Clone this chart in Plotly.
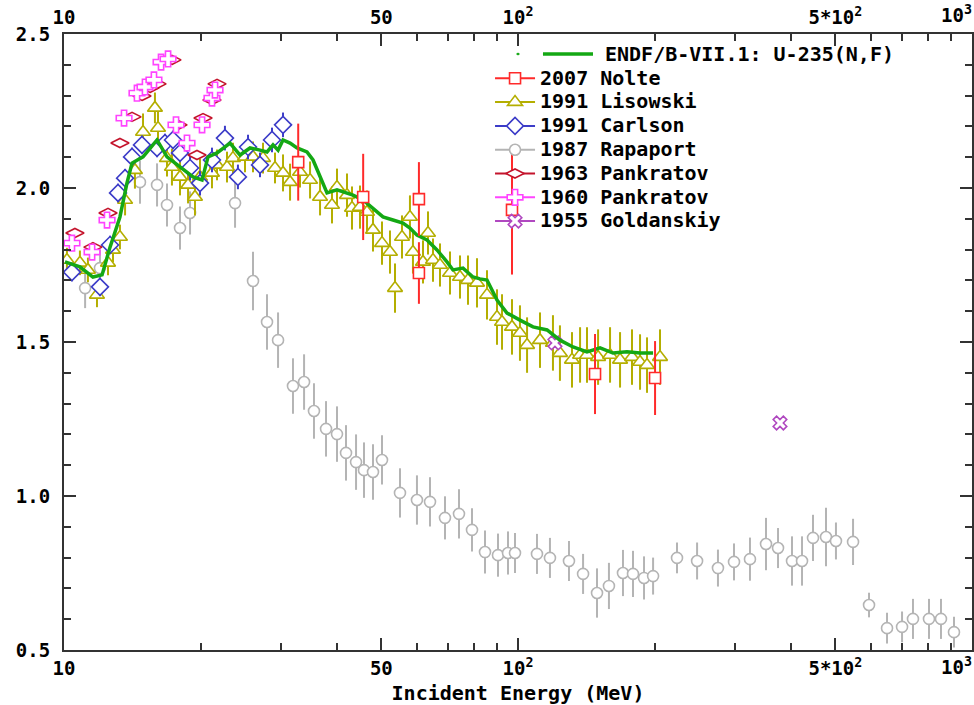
import plotly.graph_objects as go

# ---------------- data ----------------
endf_e = [10.05,10.84,11.58,12.13,12.63,13.28,13.76,14.12,14.93,16.03,16.86,18.01,19.24,20.14,20.76,
          21.73,23.21,24.42,25.69,27.02,28.00,28.87,29.61,30.37,31.47,32.60,34.29,35.36,36.64,37.96,
          39.93,41.17,43.31,45.57,47.93,50.42,53.04,55.80,57.81,59.90,63.03,66.31,69.76,71.91,75.65,
          79.59,82.46,85.45,89.90,94.58,101.0,107.9,115.9,123.7,132.2,141.9,151.6,161.9,173.8,185.7,198.4]
endf_v = [1.760,1.744,1.711,1.718,1.808,1.906,2.016,2.081,2.101,2.156,2.101,2.068,2.036,2.026,2.101,
          2.114,2.146,2.107,2.130,2.123,2.117,2.140,2.123,2.156,2.146,2.130,2.117,2.091,2.036,1.984,
          1.994,1.987,1.977,1.961,1.935,1.906,1.896,1.886,1.870,1.847,1.831,1.799,1.760,1.734,1.740,
          1.711,1.705,1.701,1.636,1.594,1.571,1.549,1.539,1.506,1.484,1.468,1.481,1.464,1.468,1.464,1.464]

nolte_e = [32.8, 45.6, 60.5, 60.5, 97.0, 147.8, 200.4]
nolte_v = [2.084, 1.971, 1.964, 1.724, 1.929, 1.396, 1.383]
nolte_err = [0.125, 0.14, 0.12, 0.10, 0.21, 0.13, 0.12]

lis_e = [10.15,10.84,11.29,11.82,12.50,12.82,13.28,13.63,14.33,14.93,15.86,16.11,16.86,17.29,18.01,
         18.76,19.43,19.93,21.18,21.73,22.86,23.56,25.04,26.08,27.44,29.16,30.37,31.47,33.10,34.83,
         36.64,38.93,39.93,42.01,43.09,44.87,46.49,47.93,50.17,52.24,53.59,55.53,57.81,58.70,61.76,
         63.35,64.98,67.33,70.83,74.51,77.60,81.22,85.45,89.90,92.22,97.0,101.0,104.7,111.8,119.4,
         123.7,131.5,137.0,141.9,150.1,159.5,167.8,178.3,185.7,192.4,205.5]
lis_v = [1.766,1.757,1.734,1.653,1.757,1.799,1.841,1.961,2.058,2.182,2.260,2.195,2.097,2.068,2.036,
         2.010,1.971,2.036,2.049,2.075,2.068,2.097,2.101,2.101,2.097,2.065,2.049,2.019,2.052,2.026,
         1.971,1.945,2.003,1.977,1.935,1.938,1.922,1.864,1.821,1.792,1.675,1.841,1.906,1.792,1.760,
         1.854,1.766,1.750,1.724,1.711,1.701,1.692,1.653,1.581,1.565,1.549,1.529,1.490,1.506,1.497,
         1.464,1.442,1.458,1.458,1.451,1.458,1.442,1.451,1.435,1.425,1.451]
lis_err = [0.04,0.04,0.04,0.04,0.04,0.04,0.04,0.05,0.06,0.06,0.05,0.06,0.06,0.06,0.06,
           0.06,0.06,0.06,0.05,0.05,0.05,0.05,0.05,0.05,0.05,0.05,0.06,0.06,0.05,0.06,
           0.06,0.06,0.06,0.07,0.07,0.07,0.07,0.07,0.07,0.07,0.08,0.07,0.07,0.07,0.07,
           0.07,0.07,0.07,0.07,0.07,0.08,0.08,0.08,0.09,0.09,0.09,0.09,0.09,0.09,0.09,
           0.09,0.09,0.09,0.09,0.09,0.09,0.09,0.09,0.09,0.09,0.09]

car_e = [10.41,12.00,12.63,13.15,13.63,14.12,14.85,16.03,16.69,17.38,18.01,18.95,19.93,21.18,22.62,
         24.16,25.43,27.02,28.72,30.37]
car_v = [1.727,1.679,1.815,1.984,2.032,2.101,2.140,2.130,2.146,2.156,2.114,2.065,2.016,2.091,2.162,
         2.036,2.133,2.075,2.156,2.205]
car_err = [0.03,0.03,0.03,0.03,0.03,0.03,0.03,0.03,0.03,0.03,0.03,0.04,0.04,0.04,0.04,
           0.04,0.04,0.04,0.04,0.04]

rap_e = [11.13,12.00,14.70,16.03,16.86,18.01,18.95,23.81,26.08,28.00,29.61,31.94,33.79,35.53,37.77,
         39.93,41.80,43.98,45.79,47.93,50.17,54.96,59.90,64.00,69.05,74.13,79.19,84.59,90.35,95.06,
         98.49,110.1,117.6,129.5,139.1,149.3,158.6,170.3,179.2,189.5,198.4,224.0,248.0,275.7,299.1,
         324.3,351.8,373.9,401.4,422.3,446.5,476.9,501.6,547.0,593.2,649.9,701.3,741.3,804.0,854.4,912.7]
rap_v = [1.675,1.740,2.019,2.010,1.945,1.870,1.919,1.951,1.698,1.565,1.506,1.357,1.370,1.276,1.218,
         1.201,1.140,1.110,1.084,1.078,1.117,1.010,0.987,0.981,0.929,0.942,0.890,0.818,0.808,0.815,
         0.815,0.812,0.799,0.789,0.747,0.685,0.708,0.750,0.747,0.734,0.740,0.799,0.789,0.766,0.786,
         0.795,0.844,0.831,0.789,0.789,0.864,0.867,0.854,0.851,0.646,0.571,0.575,0.601,0.601,0.601,0.558]
rap_err = [0.065,0.06,0.07,0.07,0.07,0.07,0.07,0.08,0.095,0.09,0.09,0.09,0.09,0.09,0.09,
           0.09,0.09,0.09,0.09,0.09,0.08,0.08,0.08,0.08,0.07,0.08,0.07,0.07,0.07,0.07,
           0.065,0.065,0.065,0.065,0.065,0.08,0.075,0.075,0.075,0.07,0.06,0.05,0.06,0.06,0.06,
           0.07,0.085,0.065,0.08,0.08,0.075,0.095,0.06,0.075,0.04,0.05,0.05,0.065,0.065,0.065,0.05]

p63_e = [10.57,11.58,12.50,13.28,14.12,14.85,15.47,16.03,17.29,17.83,19.63,20.24,21.18,21.73]
p63_v = [1.854,1.808,1.919,2.146,2.231,2.299,2.325,2.338,2.416,2.205,2.107,2.227,2.286,2.338]

p60_e = [10.41,11.53,12.44,13.56,14.48,15.08,15.78,16.36,16.95,17.65,18.66,20.14,21.18,21.51]
p60_v = [1.821,1.792,1.896,2.227,2.308,2.328,2.351,2.409,2.419,2.205,2.146,2.205,2.292,2.318]

gol_e = [120.6, 377.6]
gol_v = [1.497, 1.237]

# x tick labels; the last one (10^3, at the right frame) is drawn right-aligned so it stays on the page
x_tickvals = [10, 50, 100, 500]
x_ticktext = ["10", "50", "10<sup>2</sup>", "5*10<sup>2</sup>"]
x_last_label = "10<sup>3</sup>"
x_major_extra = [1000]
x_minor = [20, 30, 40, 60, 70, 80, 90, 200, 300, 400, 600, 700, 800, 900]
y_tickvals = [0.5, 1.0, 1.5, 2.0, 2.5]
y_ticktext = ["0.5", "1.0", "1.5", "2.0", "2.5"]
y_minor = [0.6, 0.7, 0.8, 0.9, 1.1, 1.2, 1.3, 1.4, 1.6, 1.7, 1.8, 1.9, 2.1, 2.2, 2.3, 2.4]

legend_names = ["ENDF/B-VII.1: U-235(N,F)", "2007 Nolte", "1991 Lisowski", "1991 Carlson",
                "1987 Rapaport", "1963 Pankratov", "1960 Pankratov", "1955 Goldanskiy"]

# ---------------- styles ----------------
FONT = "DejaVu Sans Mono"
C_NOLTE = "#ff2a2a"
C_LIS = "#b4ae00"
C_CAR = "#3c3cc8"
C_RAP = "#b4b4b4"
C_P63 = "#c4142c"
C_P60 = "#ff44ff"
C_GOL = "#b048c0"
C_ENDF = "#14a814"


def big(s):
    return '<span style="font-size:20px">' + s + '</span>'


fig = go.Figure()


def data_trace(x, y, err, color, symbol, size, name):
    kw = {}
    if err is not None:
        kw["error_y"] = dict(type="data", array=err, color=color, thickness=2, width=0)
    fig.add_trace(go.Scatter(
        x=x, y=y, mode="markers", name=name, showlegend=False,
        marker=dict(symbol=symbol, size=size, color="white", line=dict(color=color, width=1.6)),
        **kw))


data_trace(rap_e, rap_v, rap_err, C_RAP, "circle", 11, legend_names[4])
data_trace(lis_e, lis_v, lis_err, C_LIS, "triangle-up", 13, legend_names[2])
data_trace(car_e, car_v, car_err, C_CAR, "diamond", 13, legend_names[3])
data_trace(p63_e, p63_v, None, C_P63, "diamond-wide", 13, legend_names[5])
data_trace(p60_e, p60_v, None, C_P60, "cross", 13, legend_names[6])
data_trace(gol_e, gol_v, None, C_GOL, "x", 12, legend_names[7])

fig.add_trace(go.Scatter(x=endf_e, y=endf_v, mode="lines", showlegend=False,
                         line=dict(color=C_ENDF, width=3.5), name=legend_names[0]))

data_trace(nolte_e, nolte_v, nolte_err, C_NOLTE, "square", 11, legend_names[1])

# legend entries (marker with a line through, as in the reference)
legend_items = [
    (C_NOLTE, "square", 11),
    (C_LIS, "triangle-up", 13),
    (C_CAR, "diamond", 13),
    (C_RAP, "circle", 11),
    (C_P63, "diamond-wide", 13),
    (C_P60, "cross", 13),
    (C_GOL, "x", 12),
]
for name, (color, sym, size) in zip(legend_names[1:], legend_items):
    fig.add_trace(go.Scatter(x=[None], y=[None], mode="lines+markers", name=big(name),
                             line=dict(color=color, width=2),
                             marker=dict(symbol=sym, size=size, color="white",
                                         line=dict(color=color, width=1.6))))

# invisible trace on top axis
fig.add_trace(go.Scatter(x=[10, 1000], y=[None, None], xaxis="x2", showlegend=False,
                         hoverinfo="skip", mode="markers"))

tickfont = dict(family=FONT, size=19, color="black", weight="bold")
axcol = "#333333"
XR = [0.99999, 3.00001]

fig.update_layout(
    width=974, height=705,
    margin=dict(l=64, r=2, t=34, b=55, pad=0, autoexpand=False),
    plot_bgcolor="white", paper_bgcolor="white",
    font=dict(family=FONT, size=18, color="black", weight="bold"),
    xaxis=dict(type="log", range=XR, tickmode="array", tickvals=x_tickvals, ticktext=x_ticktext,
               ticks="inside", ticklen=12, tickwidth=2, tickcolor=axcol,
               minor=dict(tickmode="array", tickvals=x_minor, ticks="inside", ticklen=7,
                          tickwidth=2, tickcolor=axcol, showgrid=False),
               showline=True, linecolor=axcol, linewidth=2, mirror="ticks",
               showgrid=False, zeroline=False, tickfont=tickfont, ticklabeloverflow="allow",
               automargin=False,
               title=dict(text="Incident Energy (MeV)", font=dict(family=FONT, size=20, weight="bold"),
                          standoff=9)),
    xaxis2=dict(type="log", range=XR, overlaying="x", side="top", anchor="y",
                tickmode="array", tickvals=x_tickvals, ticktext=x_ticktext,
                ticks="", showline=False, showgrid=False, zeroline=False, tickfont=tickfont,
                ticklabelstandoff=5, ticklabeloverflow="allow", automargin=False),
    yaxis=dict(range=[0.5, 2.5], tickmode="array", tickvals=y_tickvals, ticktext=y_ticktext,
               ticks="inside", ticklen=12, tickwidth=2, tickcolor=axcol,
               minor=dict(tickmode="array", tickvals=y_minor, ticks="inside", ticklen=7,
                          tickwidth=2, tickcolor=axcol, showgrid=False),
               showline=True, linecolor=axcol, linewidth=2, mirror="ticks", automargin=False,
               showgrid=False, zeroline=False, tickfont=tickfont, ticklabelstandoff=8),
    legend=dict(x=0.4692, y=0.9555, xanchor="left", yanchor="top", bgcolor="rgba(0,0,0,0)",
                font=dict(family=FONT, size=16, color="black", weight="bold"),
                borderwidth=0, tracegroupgap=0, itemwidth=40),
    showlegend=True,
)

# 10^3 labels at the right end of both x axes
fig.add_annotation(xref="paper", yref="paper", x=1.0022, y=-0.004, xanchor="right", yanchor="top",
                   text=x_last_label, showarrow=False, font=tickfont)
fig.add_annotation(xref="paper", yref="paper", x=1.0022, y=1.0105, xanchor="right", yanchor="bottom",
                   text=x_last_label, showarrow=False, font=tickfont)

# ENDF legend row (dot, line sample, label)
fig.add_shape(type="line", xref="paper", yref="paper", x0=0.5275, x1=0.5826, y0=0.9675, y1=0.9675,
              line=dict(color=C_ENDF, width=3.5))
fig.add_shape(type="circle", xref="paper", yref="paper", x0=0.4985, x1=0.5015, y0=0.9663, y1=0.9687,
              line=dict(color=C_ENDF, width=1), fillcolor=C_ENDF)
fig.add_annotation(xref="paper", yref="paper", x=0.5936, y=0.9675, xanchor="left", yanchor="middle",
                   text=legend_names[0], showarrow=False,
                   font=dict(family=FONT, size=20, color="black", weight="bold"))

fig.write_html("out.html", config={"displayModeBar": False},
               post_script="document.body.style.margin='0';")
